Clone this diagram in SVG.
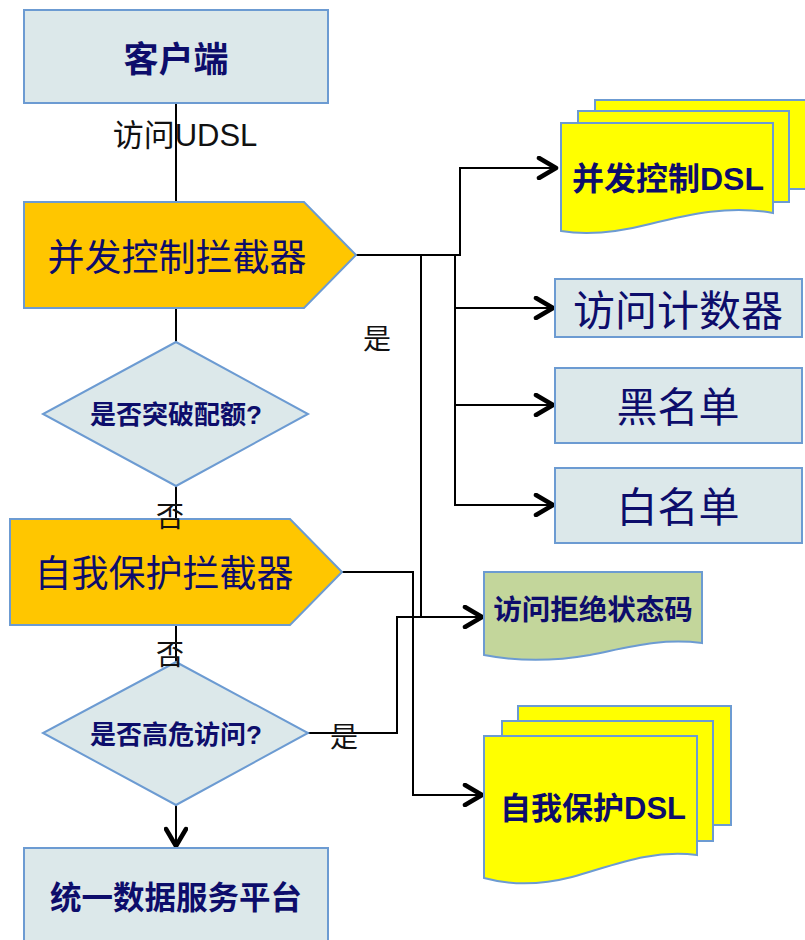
<svg xmlns="http://www.w3.org/2000/svg" width="805" height="940" viewBox="0 0 805 940">
<style>
.box{fill:#dce8ea;stroke:#6c9bd2;stroke-width:2}
.orange{fill:#ffc600;stroke:#6c9bd2;stroke-width:2}
.yellow{fill:#ffff00;stroke:#6c9bd2;stroke-width:2}
.green{fill:#c3d69b;stroke:#6c9bd2;stroke-width:2}
.t{font-family:"Liberation Sans","Noto Sans CJK SC",sans-serif;fill:#0d0d6b;text-anchor:middle;dominant-baseline:central}
.b{font-weight:bold}
.lbl{font-family:"Liberation Sans","Noto Sans CJK SC",sans-serif;fill:#111;text-anchor:middle;dominant-baseline:central}
.ln{fill:none;stroke:#000;stroke-width:2}
</style>
<defs>
<marker id="arr" markerWidth="24" markerHeight="24" viewBox="0 0 24 24" refX="20" refY="12" orient="auto" markerUnits="userSpaceOnUse">
<path d="M3,2 L20,12 L3,22" fill="none" stroke="#000" stroke-width="4.5" stroke-linecap="round" stroke-linejoin="round"/>
</marker>
</defs>

<g id="connectors">
<path class="ln" d="M176,103 V202"/>
<path class="ln" d="M176,308 V342"/>
<path class="ln" d="M176,486 V519"/>
<path class="ln" d="M176,625 V662"/>
<path class="ln" d="M176,805 V846" marker-end="url(#arr)"/>
<path class="ln" d="M356,255 H460 V168 H556" marker-end="url(#arr)"/>
<path class="ln" d="M455,255 V308 H553" marker-end="url(#arr)"/>
<path class="ln" d="M455,308 V405 H553" marker-end="url(#arr)"/>
<path class="ln" d="M455,405 V505 H553" marker-end="url(#arr)"/>
<path class="ln" d="M421,255 V617"/>
<path class="ln" d="M308,733 H397 V617 H482" marker-end="url(#arr)"/>
<path class="ln" d="M342,572 H413 V795 H482" marker-end="url(#arr)"/>
</g>

<g id="client">
<rect class="box" x="24" y="10" width="304" height="93"/>
<text class="t b" x="176" y="59" font-size="35">客户端</text>
</g>

<g id="interceptor1">
<path class="orange" d="M24,202 H304 L356,255 L304,308 H24 Z"/>
<text class="t" x="177" y="258" font-size="37">并发控制拦截器</text>
</g>

<g id="decision1">
<path class="box" d="M176,342 L308,414 L176,486 L43,414 Z"/>
<text class="t b" x="176" y="415" font-size="26">是否突破配额?</text>
</g>

<g id="interceptor2">
<path class="orange" d="M10,519 H290 L342,572 L290,625 H10 Z"/>
<text class="t" x="164" y="574" font-size="37">自我保护拦截器</text>
</g>

<g id="decision2">
<path class="box" d="M176,662 L308,733 L176,805 L43,733 Z"/>
<text class="t b" x="176" y="735" font-size="26">是否高危访问?</text>
</g>

<g id="platform">
<rect class="box" x="24" y="848" width="304" height="100"/>
<text class="t b" x="176" y="898" font-size="31.5">统一数据服务平台</text>
</g>

<g id="concurrency-dsl">
<rect class="yellow" x="595" y="100" width="215" height="89"/>
<rect class="yellow" x="578" y="111" width="211" height="91"/>
<path class="yellow" d="M561,123 H773 V213 C730,205 690,214 650,224 C615,233 585,235 561,231 Z"/>
<text class="t b" x="668" y="179" font-size="32">并发控制DSL</text>
</g>

<g id="counter">
<rect class="box" x="555" y="279" width="247" height="58"/>
<text class="t" x="678" y="311" font-size="42">访问计数器</text>
</g>

<g id="blacklist">
<rect class="box" x="555" y="368" width="247" height="75"/>
<text class="t" x="678" y="408" font-size="41">黑名单</text>
</g>

<g id="whitelist">
<rect class="box" x="555" y="468" width="247" height="75"/>
<text class="t" x="678" y="508" font-size="41">白名单</text>
</g>

<g id="reject-code">
<path class="green" d="M484,572 H702 V643 C660,638 630,647 590,655 C550,662 515,661 484,655 Z"/>
<text class="t b" x="593" y="610" font-size="28.5">访问拒绝状态码</text>
</g>

<g id="protect-dsl">
<rect class="yellow" x="518" y="706" width="213" height="119"/>
<rect class="yellow" x="502" y="721" width="211" height="120"/>
<path class="yellow" d="M484,736 H697 V855 C650,849 612,866 572,877 C537,886 506,884 484,878 Z"/>
<text class="t b" x="593" y="808" font-size="31">自我保护DSL</text>
</g>

<g id="connector-labels">
<text class="lbl" x="185" y="135" font-size="31">访问UDSL</text>
<text class="lbl" x="377" y="339" font-size="28">是</text>
<text class="lbl" x="170" y="517" font-size="28">否</text>
<text class="lbl" x="170" y="655" font-size="28">否</text>
<text class="lbl" x="344" y="737" font-size="28">是</text>
</g>
</svg>
